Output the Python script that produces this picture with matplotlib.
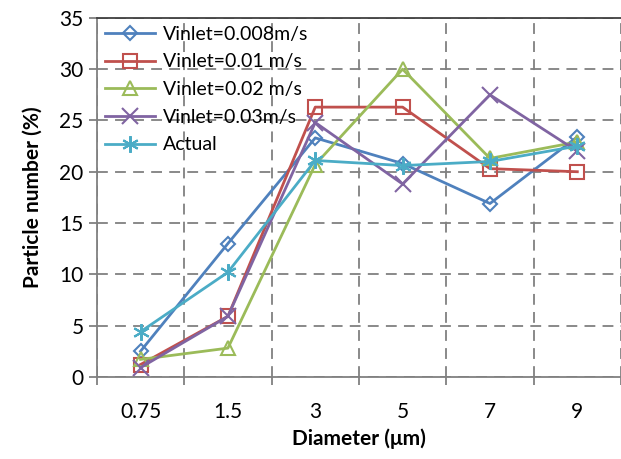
import numpy as np
import matplotlib.pyplot as plt

plt.rcParams['font.family'] = ['Lato', 'DejaVu Sans']

# Data
diameters = ['0.75', '1.5', '3', '5', '7', '9']
v0008 = [2.5, 13.0, 23.3, 20.8, 16.9, 23.4]
v001 = [1.2, 5.9, 26.3, 26.3, 20.3, 20.0]
v002 = [1.7, 2.8, 20.7, 30.0, 21.3, 22.9]
v003 = [0.9, 5.9, 24.8, 18.8, 27.5, 22.0]
actual = [4.4, 10.2, 21.1, 20.6, 21.0, 22.5]

series = [
    ('Vinlet=0.008m/s', v0008, '#4F81BD', 'D', 7.5),
    ('Vinlet=0.01 m/s', v001, '#C0504D', 's', 10),
    ('Vinlet=0.02 m/s', v002, '#9BBB59', '^', 10),
    ('Vinlet=0.03m/s', v003, '#8064A2', 'x', 11),
    ('Actual', actual, '#4BACC6', (6, 2, 0), 12),
]

fig = plt.figure(figsize=(6.21, 4.59), dpi=100)
ax = fig.add_axes([0.156, 0.179, 0.844, 0.782])

x = np.arange(len(diameters))
for label, vals, col, mk, ms in series:
    ax.plot(x, vals, color=col, lw=2, marker=mk, markersize=ms,
            markerfacecolor='none', markeredgecolor=col, markeredgewidth=1.5,
            label=label)

ax.set_xlim(-0.5, len(diameters) - 0.5)
ax.set_ylim(0, 35)
ax.set_yticks(np.arange(0, 36, 5))
ax.set_xticks(x)
ax.set_xticklabels(diameters)
ax.set_xticks(np.arange(-0.5, len(diameters)), minor=True)

ax.grid(True, axis='y', which='major', ls=(0, (6, 4)), color='#808080', lw=1.3)
ax.grid(True, axis='x', which='minor', ls=(0, (6, 4)), color='#808080', lw=1.3)
ax.set_axisbelow(True)

ax.tick_params(axis='x', which='major', length=0, labelsize=15, pad=18)
ax.tick_params(axis='x', which='minor', length=6, color='#808080', width=1.3)
ax.tick_params(axis='y', length=6, color='#808080', width=1.3, labelsize=15)

ax.spines['right'].set_visible(False)
ax.spines['top'].set_color('#404040')
ax.spines['top'].set_linewidth(1.3)
for s in ['left', 'bottom']:
    ax.spines[s].set_color('#808080')
    ax.spines[s].set_linewidth(1.3)

ax.set_xlabel('Diameter (μm)', fontsize=15, fontweight='bold', labelpad=5)
ax.set_ylabel('Particle number (%)', fontsize=15, fontweight='bold', labelpad=12)

leg = ax.legend(loc='upper left', fontsize=14, frameon=False,
                handlelength=2.6, borderaxespad=0.2,
                labelspacing=0.55, borderpad=0.2, handletextpad=0.4)

fig.savefig('out.png', dpi=100)
